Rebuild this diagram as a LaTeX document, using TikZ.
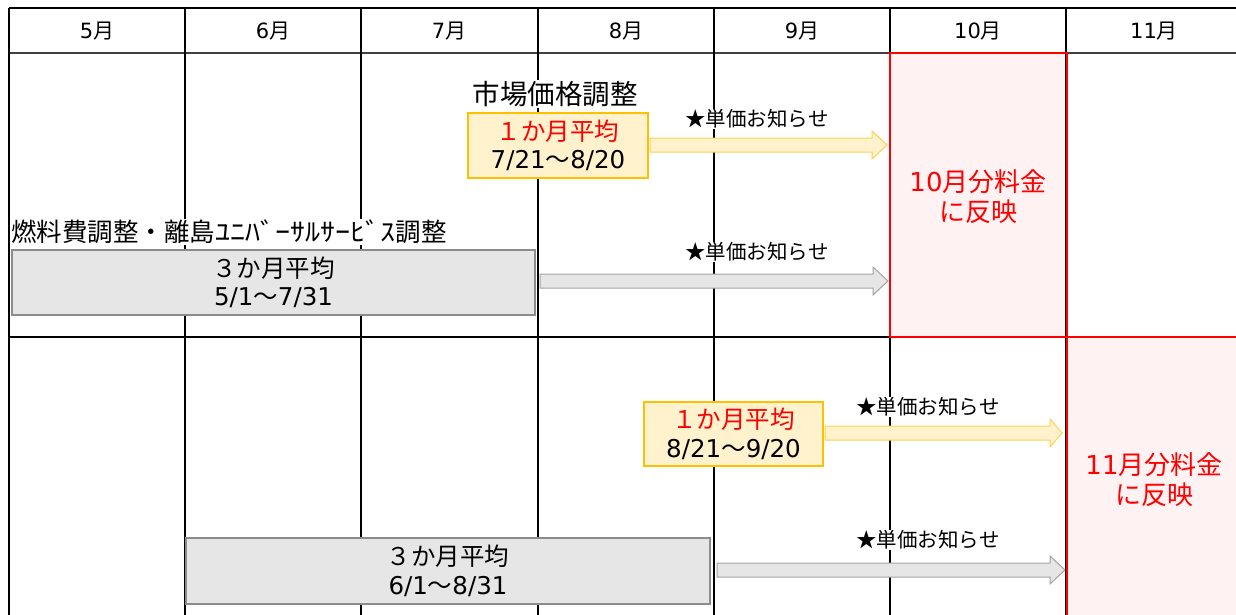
\documentclass[tikz,border=0pt]{standalone}
\usepackage{fontspec}
\usepackage{graphicx}
\setmainfont{Noto Sans CJK JP}
\newfontfamily\lat{DejaVu Sans}
\newcommand{\dg}[1]{{\lat #1}}
\usetikzlibrary{calc}
\definecolor{ofill}{HTML}{FFF2CC}
\definecolor{oline}{HTML}{FFC000}
\definecolor{yline}{HTML}{FFD24D}
\definecolor{gfill}{HTML}{E6E6E6}
\definecolor{gline}{HTML}{8C8C8C}
\definecolor{pfill}{HTML}{FFF2F2}
\newcommand{\barrow}[5]{\draw[#1] (#2,#5-7) -- (#3,#5-7) -- (#3,#5-14) -- (#4,#5) -- (#3,#5+14) -- (#3,#5+7) -- (#2,#5+7) -- cycle;}
\begin{document}
\begin{tikzpicture}[x=1pt,y=-1pt,
  gridline/.style={line width=1.2pt,black},
  month/.style={font=\fontsize{21}{24}\selectfont},
  lbl/.style={fill=white,inner sep=1pt},
  note/.style={fill=white,inner sep=1pt,font=\fontsize{20.5}{24}\selectfont},
  obox/.style={draw=oline,fill=ofill,line width=1.8pt,align=center,inner sep=0pt,font=\fontsize{24.5}{28.5}\selectfont},
  gbox/.style={draw=gline,fill=gfill,line width=1.5pt,align=center,inner sep=0pt,font=\fontsize{24.5}{28.5}\selectfont},
  yarrow/.style={draw=yline,fill=ofill,line width=1pt},
  garrow/.style={draw=gline!80,fill=gfill,line width=1pt},
  redbox/.style={draw=red,line width=2.5pt},
  redtxt/.style={text=red,align=center,font=\fontsize{26}{30}\selectfont}]
\useasboundingbox (0,0) rectangle (1236,615);
% pink fills
\fill[pfill] (890,53) rectangle (1067,337);
\fill[pfill] (1067,337) rectangle (1250,630);
% grid
\draw[gridline,line width=1.6pt] (9,8) -- (1250,8);
\draw[gridline,line width=1.8pt,black!75] (9,53) -- (1250,53);
\draw[gridline] (9,337) -- (1250,337);
\draw[gridline,line width=1.6pt] (9,8) -- (9,630);
\foreach \x in {185,361,538,714,890,1066} \draw[gridline] (\x,8) -- (\x,630);
% red frames
\draw[redbox] (890,53) rectangle (1067,337);
\draw[redbox] (1067,337) rectangle (1250,630);
% months
\node[month] (m5) at (97,31) {\dg{5}月};
\node[month] (m6) at (273,31) {\dg{6}月};
\node[month] (m7) at (449,31) {\dg{7}月};
\node[month] (m8) at (626,31) {\dg{8}月};
\node[month] (m9) at (802,31) {\dg{9}月};
\node[month] (m10) at (978,31) {\dg{10}月};
\node[month] (m11) at (1154,31) {\dg{11}月};
% red texts
\node[redtxt] (r10) at (978,197) {\dg{10}月分料金\\に反映};
\node[redtxt] (r11) at (1154,480) {\dg{11}月分料金\\に反映};
% labels
\node[lbl,font=\fontsize{27.5}{30}\selectfont] (l1) at (555,94) {市場価格調整};
\node[lbl,anchor=west,font=\fontsize{25.5}{30}\selectfont] (l2) at (10,232) {燃料費調整・離島\scalebox{1.18}[1]{ﾕﾆﾊﾞｰｻﾙｻｰﾋﾞｽ}調整};
% boxes
\node[obox,minimum width=180,minimum height=65] (o1) at (558,145.5) {\textcolor{red}{１か月平均}\\\dg{7/21}～\dg{8/20}};
\node[obox,minimum width=179,minimum height=64] (o2) at (733.5,434) {\textcolor{red}{１か月平均}\\\dg{8/21}～\dg{9/20}};
\node[gbox,minimum width=523,minimum height=65] (g1) at (273.5,282.5) {３か月平均\\\dg{5/1}～\dg{7/31}};
\node[gbox,minimum width=524,minimum height=66] (g2) at (448,571) {３か月平均\\\dg{6/1}～\dg{8/31}};
% arrows
\barrow{yarrow}{650}{872}{887}{145}
\barrow{garrow}{540}{873}{888}{281}
\barrow{yarrow}{825}{1050}{1062}{433}
\barrow{garrow}{717}{1050}{1065}{570}
% notes
\node[note] (n1) at (757,119) {★単価お知らせ};
\node[note] (n2) at (757,252) {★単価お知らせ};
\node[note] (n3) at (928,407) {★単価お知らせ};
\node[note] (n4) at (928,540) {★単価お知らせ};
\end{tikzpicture}
\end{document}
